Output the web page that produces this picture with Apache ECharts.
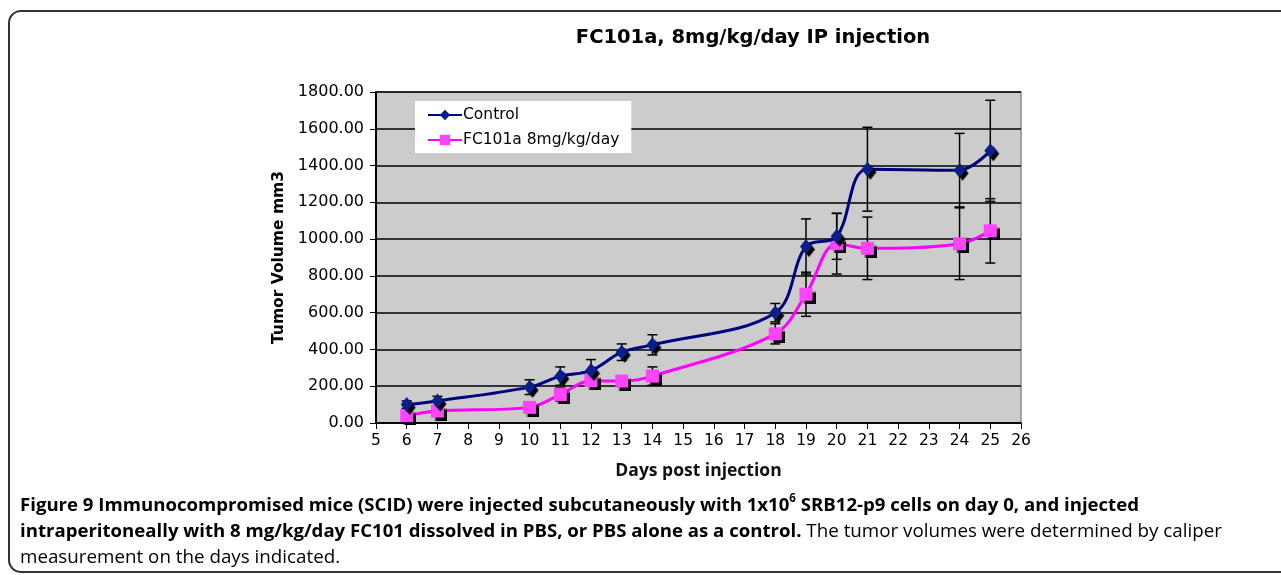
<!DOCTYPE html>
<html>
<head>
<meta charset="utf-8">
<script src="https://cdn.jsdelivr.net/npm/echarts@6/dist/echarts.min.js"></script>
<style>
html, body { margin: 0; padding: 0; background: #fff; }
#chart { width: 1281px; height: 575px; }
</style>
</head>
<body>
<div id="chart"></div>
<script>
// days post injection
var days = [6, 7, 10, 11, 12, 13, 14, 18, 19, 20, 21, 24, 25];
// tumor volume mm3
var controlMean = [100, 120, 195, 255, 285, 385, 425, 600, 960, 1015, 1380, 1375, 1480];
var controlErr  = [20, 25, 40, 50, 60, 45, 55, 50, 150, 125, 228, 200, 275];
var fcMean = [40, 65, 85, 155, 230, 228, 255, 485, 700, 975, 950, 975, 1045];
var fcErr  = [15, 20, 20, 35, 30, 25, 50, 55, 120, 165, 170, 195, 175];

var yTicks = [0, 200, 400, 600, 800, 1000, 1200, 1400, 1600, 1800];

function pairs(xs, ys) {
    return xs.map(function(x, i) { return [x, ys[i]]; });
}
function errRows(xs, ys, es) {
    return xs.map(function(x, i) { return [x, ys[i] - es[i], ys[i] + es[i]]; });
}

// vertical bar with caps, in axis coords
function renderErr(params, api) {
    var x = api.value(0);
    var lo = api.coord([x, api.value(1)]);
    var hi = api.coord([x, api.value(2)]);
    var w = 5;
    var st = { stroke: '#000', lineWidth: 1.5 };
    return {
        type: 'group',
        children: [
            { type: 'line', shape: { x1: lo[0], y1: lo[1], x2: hi[0], y2: hi[1] }, style: st },
            { type: 'line', shape: { x1: lo[0] - w, y1: lo[1], x2: lo[0] + w, y2: lo[1] }, style: st },
            { type: 'line', shape: { x1: hi[0] - w, y1: hi[1], x2: hi[0] + w, y2: hi[1] }, style: st }
        ]
    };
}

var chart = echarts.init(document.getElementById('chart'));

var option = {
    backgroundColor: '#fff',
    animation: false,
    title: {
        text: 'FC101a, 8mg/kg/day IP injection',
        left: 748,
        textAlign: 'center',
        top: 23,
        textStyle: { fontFamily: 'DejaVu Sans', fontWeight: 'bold', fontSize: 19.5, color: '#000' }
    },
    legend: {
        data: ['Control', 'FC101a 8mg/kg/day'],
        orient: 'vertical',
        left: 415,
        top: 101,
        backgroundColor: '#fff',
        padding: [6, 12, 5, 12],
        itemGap: 9,
        itemWidth: 34,
        itemHeight: 13,
        textStyle: { fontFamily: 'DejaVu Sans', fontSize: 15.5, color: '#000', padding: [0, 0, 0, -4] }
    },
    grid: {
        left: 376,
        top: 92,
        right: 260,
        bottom: 152,
        show: true,
        backgroundColor: '#cccccc',
        borderColor: '#8a8a8a',
        borderWidth: 1.5
    },
    xAxis: {
        type: 'value',
        min: 5,
        max: 26,
        interval: 1,
        name: 'Days post injection',
        nameLocation: 'middle',
        nameGap: 39,
        nameTextStyle: { fontFamily: 'Open Sans', fontWeight: 'bold', fontSize: 17.5, color: '#111' },
        axisLine: { lineStyle: { color: '#000', width: 1.5 } },
        axisTick: { lineStyle: { color: '#000' }, length: 6 },
        axisLabel: { fontFamily: 'DejaVu Sans', fontSize: 15.5, color: '#000', margin: 10 },
        splitLine: { show: false }
    },
    yAxis: {
        type: 'value',
        min: yTicks[0],
        max: yTicks[yTicks.length - 1],
        interval: 200,
        name: 'Tumor Volume mm3',
        nameLocation: 'middle',
        nameGap: 87,
        nameTextStyle: { fontFamily: 'DejaVu Sans', fontWeight: 'bold', fontSize: 15.5, color: '#000' },
        axisLine: { show: true, lineStyle: { color: '#000', width: 2 } },
        axisTick: { show: true, lineStyle: { color: '#000' }, length: 6 },
        axisLabel: {
            fontFamily: 'DejaVu Sans', fontSize: 16, color: '#000', margin: 12,
            formatter: function(v) { return v.toFixed(2); }
        },
        splitLine: { lineStyle: { color: '#000', width: 1.5 } }
    },
    series: [
        {
            name: 'ctrlErr',
            type: 'custom',
            renderItem: renderErr,
            encode: { x: 0, y: [1, 2] },
            data: errRows(days, controlMean, controlErr),
            z: 3
        },
        {
            name: 'fcErr',
            type: 'custom',
            renderItem: renderErr,
            encode: { x: 0, y: [1, 2] },
            data: errRows(days, fcMean, fcErr),
            z: 3
        },
        {
            name: 'FC101a 8mg/kg/day',
            type: 'line',
            data: pairs(days, fcMean),
            smooth: 0.35,
            symbol: 'rect',
            symbolSize: 13,
            color: '#ff33ff',
            lineStyle: { color: '#ff00ff', width: 3 },
            itemStyle: { color: '#ff44ff', shadowColor: '#000', shadowOffsetX: 3, shadowOffsetY: 3, shadowBlur: 1 },
            z: 4
        },
        {
            name: 'Control',
            type: 'line',
            data: pairs(days, controlMean),
            smooth: 0.35,
            symbol: 'diamond',
            symbolSize: [12, 15],
            color: '#000080',
            lineStyle: { color: '#000080', width: 3 },
            itemStyle: { color: '#0a1f8a', shadowColor: '#000', shadowOffsetX: 3, shadowOffsetY: 3, shadowBlur: 1 },
            z: 5
        }
    ],
    graphic: [
        {
            type: 'rect',
            shape: { x: 9, y: 11, width: 1320, height: 561, r: 12 },
            style: { fill: 'none', stroke: '#333', lineWidth: 2 },
            silent: true
        },
        {
            type: 'text',
            left: 20,
            top: 493,
            style: {
                text: '{b|Figure 9 Immunocompromised mice (SCID) were injected subcutaneously with 1x10}{sup|6}{b| SRB12-p9 cells on day 0, and injected}\n' +
                      '{b|intraperitoneally with 8 mg/kg/day FC101 dissolved in PBS, or PBS alone as a control.}{r| The tumor volumes were determined by caliper}\n' +
                      '{r|measurement on the days indicated.}',
                rich: {
                    b: { fontFamily: 'Open Sans', fontWeight: 'bold', fontSize: 18.6, color: '#231f20', lineHeight: 26 },
                    sup: { fontFamily: 'Open Sans', fontWeight: 'bold', fontSize: 11.5, color: '#231f20', verticalAlign: 'top', lineHeight: 26, padding: [0, 0, 8, 0] },
                    r: { fontFamily: 'Open Sans', fontSize: 18.8, color: '#505050', lineHeight: 26 }
                }
            }
        }
    ]
};

chart.setOption(option);
</script>
</body>
</html>
